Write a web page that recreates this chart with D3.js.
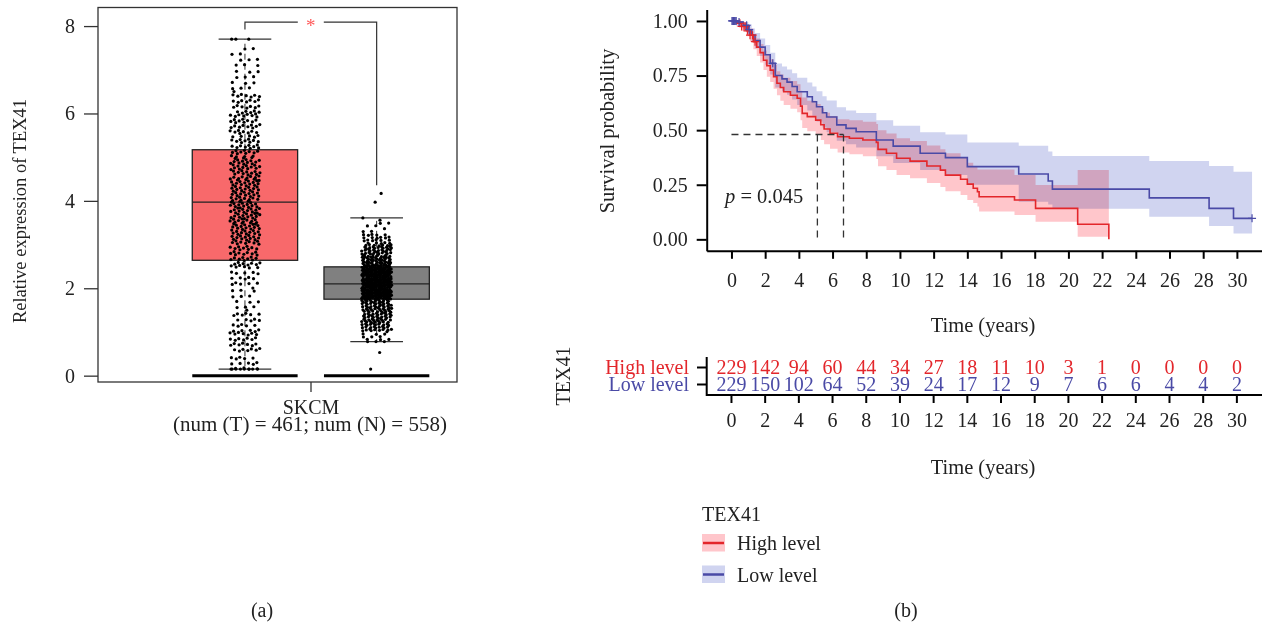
<!DOCTYPE html>
<html>
<head>
<meta charset="utf-8">
<script src="https://cdn.jsdelivr.net/npm/d3@7"></script>
<style>
  body { margin: 0; background: #fff; }
  svg { display: block; font-family: 'Liberation Serif', 'Times New Roman', serif; }
</style>
</head>
<body>
<svg id="chart" width="1262" height="627"></svg>
<script>
// ---------- panel (a): expression box plot ----------
const groups = ['T', 'N'];
const groupFill = ['#f8696b', '#808080'];
// [lower whisker, Q1, median, Q3, upper whisker]
const tumorBox = [0.15, 2.64, 3.97, 5.17, 7.70];
const normalBox = [0.78, 1.75, 2.10, 2.49, 3.61];
// point counts per bin
const tumorBinStart = 0, tumorBinWidth = 0.5;
const tumorCounts = [22, 28, 22, 12, 20, 36, 50, 52, 50, 46, 36, 34, 28, 12, 10, 3];
const normalBinStart = 0.75, normalBinWidth = 0.25;
const normalCounts = [12, 38, 42, 48, 95, 95, 88, 60, 45, 22, 7, 2];
const normalOutliers = [0.15, 0.53, 3.97, 4.17];
const exprTicks = [0, 2, 4, 6, 8];
const bracket = [7.92, 8.09, 4.36]; // left end, top, right end

// ---------- panel (b): Kaplan-Meier ----------
const levels = ['High level', 'Low level'];
const levelColors = ['#e3262b', '#4a4aa6'];
const timeTicks = [0, 2, 4, 6, 8, 10, 12, 14, 16, 18, 20, 22, 24, 26, 28, 30];
const survTicks = [0, 0.25, 0.5, 0.75, 1];
// [time, survival, lower CI, upper CI]
const highSteps = [
  [0, 1, 1, 1], [0.3, 0.99, 0.975, 1], [0.6, 0.975, 0.955, 0.995], [0.9, 0.955, 0.93, 0.98],
  [1.1, 0.935, 0.905, 0.965], [1.3, 0.905, 0.87, 0.94], [1.5, 0.88, 0.84, 0.92],
  [1.7, 0.855, 0.81, 0.895], [1.9, 0.82, 0.775, 0.865], [2.1, 0.795, 0.745, 0.845],
  [2.3, 0.775, 0.72, 0.825], [2.5, 0.745, 0.69, 0.8], [2.7, 0.715, 0.66, 0.77],
  [2.9, 0.695, 0.635, 0.755], [3.1, 0.676, 0.615, 0.74], [3.5, 0.66, 0.598, 0.725],
  [3.9, 0.646, 0.582, 0.71], [4.1, 0.61, 0.545, 0.68], [4.2, 0.577, 0.51, 0.65],
  [4.5, 0.562, 0.495, 0.635], [5.0, 0.546, 0.478, 0.62], [5.3, 0.525, 0.455, 0.6],
  [5.5, 0.505, 0.435, 0.58], [5.85, 0.486, 0.415, 0.565], [6.3, 0.47, 0.398, 0.55],
  [7.0, 0.463, 0.39, 0.545], [7.8, 0.455, 0.38, 0.538], [8.6, 0.444, 0.368, 0.528],
  [8.7, 0.412, 0.335, 0.5], [9.2, 0.394, 0.318, 0.485], [9.8, 0.371, 0.295, 0.463],
  [10.6, 0.358, 0.28, 0.45], [11.6, 0.336, 0.258, 0.43], [12.4, 0.317, 0.24, 0.412],
  [12.7, 0.294, 0.22, 0.394], [13.6, 0.275, 0.203, 0.372], [14.0, 0.253, 0.18, 0.351],
  [14.35, 0.234, 0.166, 0.335], [14.6, 0.218, 0.15, 0.32], [14.7, 0.195, 0.127, 0.32],
  [16.8, 0.18, 0.111, 0.295], [18.05, 0.142, 0.081, 0.249], [20.55, 0.069, 0.012, 0.317],
  [22.4, 0, 0.012, 0.317]
];
const lowSteps = [
  [0, 1, 1, 1], [0.4, 0.995, 0.985, 1], [0.7, 0.98, 0.96, 0.995], [1.0, 0.96, 0.935, 0.985],
  [1.2, 0.935, 0.905, 0.965], [1.4, 0.91, 0.875, 0.945], [1.7, 0.88, 0.84, 0.92],
  [2.0, 0.845, 0.8, 0.89], [2.3, 0.806, 0.755, 0.855], [2.6, 0.75, 0.695, 0.805],
  [3.0, 0.735, 0.678, 0.792], [3.3, 0.72, 0.662, 0.778], [3.6, 0.7, 0.64, 0.76],
  [3.9, 0.676, 0.615, 0.74], [4.5, 0.653, 0.59, 0.718], [4.8, 0.63, 0.566, 0.7],
  [5.05, 0.607, 0.54, 0.678], [5.4, 0.58, 0.512, 0.655], [5.65, 0.56, 0.49, 0.636],
  [6.25, 0.524, 0.452, 0.605], [6.8, 0.508, 0.435, 0.59], [7.4, 0.493, 0.42, 0.578],
  [8.6, 0.455, 0.38, 0.545], [9.6, 0.427, 0.35, 0.52], [11.2, 0.394, 0.318, 0.49],
  [12.7, 0.374, 0.295, 0.48], [14.0, 0.333, 0.25, 0.443], [17.05, 0.299, 0.172, 0.428],
  [18.8, 0.267, 0.16, 0.402], [19.05, 0.23, 0.14, 0.382], [24.8, 0.19, 0.104, 0.359],
  [28.35, 0.142, 0.061, 0.336], [29.8, 0.096, 0.027, 0.31], [30.9, 0.096, 0.027, 0.31]
];
const highCensor = [0.5, 0.6, 0.75, 0.85, 0.95, 1.1, 1.25, 1.4];
const lowCensor = [0.03, 0.08, 0.12, 0.17, 0.22, 0.28, 0.45, 0.9, 1.05, 2.45, 30.9];
const medianTimes = [5.1, 6.65];
const medianLevel = 0.48;
const pText = '0.045';
const riskHigh = [229, 142, 94, 60, 44, 34, 27, 18, 11, 10, 3, 1, 0, 0, 0, 0];
const riskLow = [229, 150, 102, 64, 52, 39, 24, 17, 12, 9, 7, 6, 6, 4, 4, 2];

const svg = d3.select('#chart');
const ink = '#222';
const fs = 20;

// ================= panel (a) =================
const yE = d3.scaleLinear().domain([-0.145, 8.425]).range([382, 7.5]);
const xG = d3.scaleBand().domain(groups).range([179.1, 442.5]);
const boxW = xG.bandwidth() * 0.8;
const a = svg.append('g');

a.append('rect')
    .attr('x', 98).attr('y', yE(8.425))
    .attr('width', 457 - 98).attr('height', yE(-0.145) - yE(8.425))
    .attr('fill', 'none').attr('stroke', '#333').attr('stroke-width', 1.3);

const yAxA = a.append('g')
    .attr('transform', 'translate(98,0)')
    .call(d3.axisLeft(yE).tickValues(exprTicks).tickSize(14).tickPadding(9).tickSizeOuter(0))
    .attr('font-family', null).attr('font-size', null);
yAxA.select('.domain').remove();
yAxA.selectAll('line').attr('stroke', '#333').attr('stroke-width', 1.3);
yAxA.selectAll('text').attr('font-size', fs).attr('fill', ink);

a.append('line')
    .attr('x1', 311).attr('x2', 311).attr('y1', 382).attr('y2', 392)
    .attr('stroke', '#333').attr('stroke-width', 1.3);
a.append('text').attr('x', 311).attr('y', 414).attr('text-anchor', 'middle')
    .attr('font-size', 20).attr('fill', ink).text('SKCM');
a.append('text').attr('x', 310).attr('y', 431).attr('text-anchor', 'middle')
    .attr('font-size', 21).attr('fill', ink).text('(num (T) = 461; num (N) = 558)');
a.append('text').attr('transform', 'translate(26,211) rotate(-90)').attr('text-anchor', 'middle')
    .attr('font-size', 18.5).attr('fill', ink).text('Relative expression of TEX41');
a.append('text').attr('x', 262).attr('y', 617).attr('text-anchor', 'middle')
    .attr('font-size', fs).attr('fill', ink).text('(a)');

// boxes
[tumorBox, normalBox].forEach((b, i) => {
  const cx = xG(groups[i]) + xG.bandwidth() / 2;
  const g = a.append('g');
  g.append('line').attr('x1', cx).attr('x2', cx).attr('y1', yE(b[3])).attr('y2', yE(b[4]))
      .attr('stroke', '#333').attr('stroke-dasharray', '6,4');
  g.append('line').attr('x1', cx).attr('x2', cx).attr('y1', yE(b[1])).attr('y2', yE(b[0]))
      .attr('stroke', '#333').attr('stroke-dasharray', '6,4');
  [b[0], b[4]].forEach(v => {
    g.append('line').attr('x1', cx - boxW / 4).attr('x2', cx + boxW / 4)
        .attr('y1', yE(v)).attr('y2', yE(v)).attr('stroke', '#333').attr('stroke-width', 1.3);
  });
  g.append('rect').attr('x', cx - boxW / 2).attr('y', yE(b[3]))
      .attr('width', boxW).attr('height', yE(b[1]) - yE(b[3]))
      .attr('fill', groupFill[i]).attr('stroke', '#222').attr('stroke-width', 1.3);
  g.append('line').attr('x1', cx - boxW / 2).attr('x2', cx + boxW / 2)
      .attr('y1', yE(b[2])).attr('y2', yE(b[2])).attr('stroke', '#222').attr('stroke-width', 1.3);
  g.append('line').attr('x1', cx - boxW / 2).attr('x2', cx + boxW / 2)
      .attr('y1', yE(0)).attr('y2', yE(0)).attr('stroke', '#000').attr('stroke-width', 3);
});

// jittered points: each bin's count spread evenly (R2 low-discrepancy layout)
function spread(counts, start, width, lo, hi, offset) {
  const pts = [];
  let k = offset;
  counts.forEach((n, bi) => {
    for (let j = 0; j < n; j++, k++) {
      const u = (0.5 + 0.7548776662 * k) % 1;
      const v = (0.5 + 0.5698402910 * k) % 1;
      let val = start + (bi + u) * width;
      val = Math.max(lo, Math.min(hi, val));
      pts.push([v - 0.5, val]);
    }
  });
  return pts;
}
const tumorPts = spread(tumorCounts, tumorBinStart, tumorBinWidth, tumorBox[0], tumorBox[4], 1);
const normalPts = spread(normalCounts, normalBinStart, normalBinWidth, normalBox[0], normalBox[4], 7)
    .concat(normalOutliers.map((v, i) => [[-0.2, 0.1, -0.05, 0.15][i], v]));
[tumorPts, normalPts].forEach((pts, i) => {
  const cx = xG(groups[i]) + xG.bandwidth() / 2;
  a.append('g').selectAll('circle').data(pts).join('circle')
      .attr('cx', d => cx + d[0] * 30)
      .attr('cy', d => yE(d[1]))
      .attr('r', 1.6)
      .attr('fill', '#000');
});

// significance bracket
const cT = xG('T') + xG.bandwidth() / 2, cN = xG('N') + xG.bandwidth() / 2;
const midB = (cT + cN) / 2;
a.append('path')
    .attr('d', `M${cT},${yE(bracket[0])}V${yE(bracket[1])}H${midB - 13}M${midB + 13},${yE(bracket[1])}H${cN}V${yE(bracket[2])}`)
    .attr('fill', 'none').attr('stroke', '#333').attr('stroke-width', 1.2);
a.append('text').attr('x', midB).attr('y', yE(bracket[1]) + 10).attr('text-anchor', 'middle')
    .attr('font-size', 19).attr('fill', '#ff5a5a').text('*');

// ================= panel (b) =================
const xT = d3.scaleLinear().domain([-1.47, 32.5]).range([706.7, 1279]);
const yS = d3.scaleLinear().domain([-0.0525, 1.0525]).range([250.8, 9.5]);
const b = svg.append('g');

const bandFill = ['#ffc6cb', '#d0d4f0'];
const area = d3.area().curve(d3.curveStepAfter)
    .x(d => xT(d[0])).y0(d => yS(d[2])).y1(d => yS(d[3]));
const line = d3.line().curve(d3.curveStepAfter)
    .x(d => xT(d[0])).y(d => yS(d[1]));

[highSteps, lowSteps].forEach((s, i) => {
  b.append('path').attr('d', area(s))
      .attr('fill', bandFill[i]).style('mix-blend-mode', 'multiply');
});
[highSteps, lowSteps].forEach((s, i) => {
  b.append('path').attr('d', line(s))
      .attr('fill', 'none').attr('stroke', levelColors[i]).attr('stroke-width', 1.6);
});

function survAt(steps, t) {
  let v = 1;
  steps.forEach(s => { if (s[0] <= t) v = s[1]; });
  return v;
}
[[highSteps, highCensor], [lowSteps, lowCensor]].forEach(([s, c], i) => {
  b.append('g').selectAll('path').data(c).join('path')
      .attr('d', t => {
        const x = xT(t), y = yS(survAt(s, t));
        return `M${x - 4},${y}H${x + 4}M${x},${y - 4}V${y + 4}`;
      })
      .attr('stroke', levelColors[i]).attr('stroke-width', 1.2).attr('fill', 'none');
});

// median survival guides
b.append('path')
    .attr('d', `M${xT(0)},${yS(medianLevel)}H${xT(d3.max(medianTimes))}` +
      medianTimes.map(t => `M${xT(t)},${yS(medianLevel)}V${yS(0)}`).join(''))
    .attr('fill', 'none').attr('stroke', '#333').attr('stroke-width', 1.3).attr('stroke-dasharray', '7,5');

b.append('text').attr('x', 725).attr('y', 203).attr('font-size', 20.5).attr('fill', ink)
    .html('<tspan font-style="italic">p</tspan> = ' + pText);

const xAxB = b.append('g').attr('transform', 'translate(0,250.8)')
    .call(d3.axisBottom(xT).tickValues(timeTicks).tickSize(8).tickPadding(14).tickSizeOuter(0));
const yAxB = b.append('g').attr('transform', 'translate(706.7,0)')
    .call(d3.axisLeft(yS).tickValues(survTicks).tickFormat(d3.format('.2f')).tickSize(10).tickPadding(9).tickSizeOuter(0));
[xAxB, yAxB].forEach(ax => {
  ax.attr('font-family', null).attr('font-size', null);
  ax.select('.domain').attr('stroke', '#000').attr('stroke-width', 2);
  ax.selectAll('.tick line').attr('stroke', '#000').attr('stroke-width', 2);
  ax.selectAll('text').attr('font-size', fs).attr('fill', ink);
});

b.append('text').attr('transform', 'translate(614,131) rotate(-90)').attr('text-anchor', 'middle')
    .attr('font-size', 20.5).attr('fill', ink).text('Survival probability');
b.append('text').attr('x', 983).attr('y', 332).attr('text-anchor', 'middle')
    .attr('font-size', 20.5).attr('fill', ink).text('Time (years)');

// risk table
const rowY = d3.scaleBand().domain(levels).range([359, 393]);
const tbl = b.append('g');
tbl.append('path').attr('d', `M706.7,357V395H1262`)
    .attr('fill', 'none').attr('stroke', '#000').attr('stroke-width', 2);
levels.forEach((lv, i) => {
  const cy = rowY(lv) + rowY.bandwidth() / 2;
  tbl.append('line').attr('x1', 697).attr('x2', 706.7).attr('y1', cy).attr('y2', cy)
      .attr('stroke', '#000').attr('stroke-width', 2);
  tbl.append('text').attr('x', 689).attr('y', cy).attr('dy', '0.33em').attr('text-anchor', 'end')
      .attr('font-size', fs).attr('fill', levelColors[i]).text(lv);
  tbl.append('g').selectAll('text').data([riskHigh, riskLow][i]).join('text')
      .attr('x', (d, j) => xT(timeTicks[j]))
      .attr('y', cy).attr('dy', '0.33em').attr('text-anchor', 'middle')
      .attr('font-size', fs).attr('fill', levelColors[i]).text(d => d);
});
tbl.append('g').selectAll('line').data(timeTicks).join('line')
    .attr('x1', d => xT(d)).attr('x2', d => xT(d)).attr('y1', 395).attr('y2', 403)
    .attr('stroke', '#000').attr('stroke-width', 2);
tbl.append('g').selectAll('text').data(timeTicks).join('text')
    .attr('x', d => xT(d)).attr('y', 420).attr('dy', '0.35em').attr('text-anchor', 'middle')
    .attr('font-size', fs).attr('fill', ink).text(d => d);
tbl.append('text').attr('x', 983).attr('y', 474).attr('text-anchor', 'middle')
    .attr('font-size', 20.5).attr('fill', ink).text('Time (years)');
tbl.append('text').attr('transform', 'translate(570,376) rotate(-90)').attr('text-anchor', 'middle')
    .attr('font-size', fs).attr('fill', ink).text('TEX41');

// legend
const lg = b.append('g');
lg.append('text').attr('x', 702).attr('y', 521).attr('font-size', fs).attr('fill', ink).text('TEX41');
levels.forEach((lv, i) => {
  const top = 534 + i * 31.5;
  lg.append('rect').attr('x', 702).attr('y', top).attr('width', 23).attr('height', 17.5)
      .attr('fill', bandFill[i]);
  lg.append('line').attr('x1', 703).attr('x2', 724).attr('y1', top + 9).attr('y2', top + 9)
      .attr('stroke', levelColors[i]).attr('stroke-width', 2.5);
  lg.append('text').attr('x', 737).attr('y', top + 9).attr('dy', '0.35em')
      .attr('font-size', fs).attr('fill', ink).text(lv);
});
b.append('text').attr('x', 906).attr('y', 617).attr('text-anchor', 'middle')
    .attr('font-size', fs).attr('fill', ink).text('(b)');
</script>
</body>
</html>
